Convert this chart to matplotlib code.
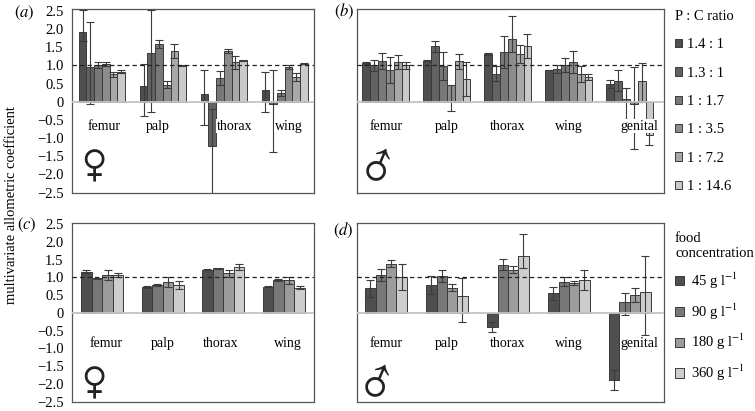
import matplotlib
matplotlib.use("Agg")
import matplotlib.pyplot as plt
import numpy as np

plt.rcParams['font.family'] = ['Liberation Serif', 'DejaVu Serif']
plt.rcParams['mathtext.fontset'] = 'stix'

# ---------------- data ----------------
cats_female = ['femur', 'palp', 'thorax', 'wing']
cats_male = ['femur', 'palp', 'thorax', 'wing', 'genital']
pc_labels = ['1.4 : 1', '1.3 : 1', '1 : 1.7', '1 : 3.5', '1 : 7.2', '1 : 14.6']
food_labels = [r'45 g l$^{-1}$', r'90 g l$^{-1}$', r'180 g l$^{-1}$', r'360 g l$^{-1}$']
ytick_vals = [2.5, 2.0, 1.5, 1.0, 0.5, 0, -0.5, -1.0, -1.5, -2.0, -2.5]
ytick_labels = ['2.5', '2.0', '1.5', '1.0', '0.5', '0', '\u22120.5', '\u22121.0',
                '\u22121.5', '\u22122.0', '\u22122.5']

# panel (a): P:C ratio, females  (rows = ratio, cols = trait)
a_vals = [[1.93, 0.42, 0.21, 0.33],
          [0.95, 1.33, -1.23, -0.06],
          [1.01, 1.59, 0.65, 0.25],
          [1.03, 0.47, 1.40, 0.96],
          [0.75, 1.40, 1.09, 0.68],
          [0.82, 1.00, 1.14, 1.05]]
a_err_lo = [[0.26, 0.81, 0.86, 0.61],
            [1.02, 1.61, 1.31, 1.32],
            [0.08, 0.12, 0.20, 0.08],
            [0.05, 0.10, 0.06, 0.05],
            [0.08, 0.19, 0.18, 0.10],
            [0.04, 0.02, 0.02, 0.02]]
a_err_hi = [[0.60, 0.63, 0.66, 0.48],
            [1.24, 1.19, 1.02, 0.93],
            [0.08, 0.12, 0.20, 0.08],
            [0.05, 0.10, 0.06, 0.05],
            [0.08, 0.19, 0.18, 0.10],
            [0.04, 0.02, 0.02, 0.02]]

# panel (b): P:C ratio, males
b_vals = [[1.07, 1.13, 1.31, 0.87, 0.49],
          [1.00, 1.53, 0.77, 0.90, 0.58],
          [1.12, 0.98, 1.37, 1.00, 0.08],
          [0.87, 0.46, 1.73, 1.09, -0.05],
          [1.09, 1.11, 1.31, 0.75, 0.58],
          [1.00, 0.63, 1.52, 0.68, -0.92]]
b_err_lo = [[0.02, 0.02, 0.03, 0.01, 0.10],
            [0.16, 0.15, 0.20, 0.10, 0.29],
            [0.22, 0.39, 0.43, 0.19, 0.55],
            [0.35, 0.72, 0.35, 0.30, 1.26],
            [0.20, 0.20, 0.25, 0.22, 0.60],
            [0.10, 0.47, 0.33, 0.09, 0.27]]
b_err_hi = [[0.02, 0.02, 0.03, 0.01, 0.10],
            [0.16, 0.15, 0.20, 0.10, 0.29],
            [0.22, 0.39, 0.43, 0.19, 0.31],
            [0.35, 0.00, 0.63, 0.30, 1.00],
            [0.20, 0.20, 0.25, 0.22, 0.49],
            [0.10, 0.47, 0.33, 0.09, 0.27]]

# panel (c): food concentration, females
c_vals = [[1.16, 0.74, 1.22, 0.74],
          [0.97, 0.79, 1.25, 0.92],
          [1.06, 0.87, 1.11, 0.92],
          [1.06, 0.78, 1.29, 0.71]]
c_err = [[0.05, 0.03, 0.02, 0.02],
         [0.02, 0.02, 0.02, 0.02],
         [0.14, 0.15, 0.09, 0.10],
         [0.05, 0.12, 0.08, 0.05]]

# panel (d): food concentration, males
d_vals = [[0.69, 0.78, -0.40, 0.55, -1.88],
          [1.06, 1.04, 1.36, 0.88, 0.30],
          [1.38, 0.71, 1.22, 0.85, 0.50],
          [1.00, 0.48, 1.59, 0.92, 0.60]]
d_err_lo = [[0.23, 0.25, 0.14, 0.18, 0.28],
            [0.17, 0.18, 0.16, 0.12, 0.37],
            [0.10, 0.10, 0.09, 0.06, 0.19],
            [0.37, 0.74, 0.32, 0.29, 1.22]]
d_err_hi = [[0.23, 0.25, 0.14, 0.18, 0.28],
            [0.17, 0.18, 0.16, 0.12, 0.27],
            [0.10, 0.10, 0.09, 0.06, 0.19],
            [0.37, 0.51, 0.62, 0.29, 1.00]]

# ---------------- style ----------------
colors6 = ['#4f4f4f', '#626262', '#787878', '#8c8c8c', '#a8a8a8', '#cacaca']
colors4 = ['#4f4f4f', '#787878', '#9c9c9c', '#cdcdcd']

W, H = 755, 411
fig = plt.figure(figsize=(W / 100, H / 100), dpi=100)


def px_axes(x0, y0, x1, y1):
    return fig.add_axes([x0 / W, 1 - y1 / H, (x1 - x0) / W, (y1 - y0) / H])


def draw_panel(ax, cats, vals, lo, hi, colors, group_w, xlim, ylim, label_y,
               label_dx, show_y):
    n = len(vals)
    w = group_w / n
    x = np.arange(len(cats))
    handles = []
    for i in range(n):
        off = (i - (n - 1) / 2) * w
        bars = ax.bar(x + off, vals[i], w, color=colors[i], edgecolor='#3a3a3a',
                      linewidth=0.7, zorder=2)
        handles.append(bars)
        ax.errorbar(x + off, vals[i], yerr=[lo[i], hi[i]], fmt='none',
                    ecolor='#3c3c3c', elinewidth=0.8, capsize=2.6,
                    capthick=0.8, zorder=3)
    ax.axhline(0, color='#c4c4c4', lw=1.3, zorder=3.5)
    ax.axhline(1, color='#222222', lw=0.9, ls=(0, (3.5, 2.5)), zorder=4)
    for j, c in enumerate(cats):
        ax.text(x[j] + label_dx[j], label_y, c, ha='center', va='center',
                fontsize=10, zorder=6,
                bbox=dict(facecolor='white', edgecolor='none', pad=0.6))
    ax.set_xlim(*xlim)
    ax.set_ylim(*ylim)
    ax.set_xticks([])
    ax.set_yticks(ytick_vals)
    if show_y:
        ax.set_yticklabels(ytick_labels, fontsize=10.5)
    else:
        ax.set_yticklabels([])
    ax.tick_params(axis='y', length=0, pad=6)
    for s in ax.spines.values():
        s.set_color('#555555')
        s.set_linewidth(0.9)
    return handles


ax_a = px_axes(72, 9, 314, 193)
ax_b = px_axes(357, 9, 664, 193)
ax_c = px_axes(72, 223, 314, 402)
ax_d = px_axes(357, 223, 664, 402)

h_pc = draw_panel(ax_a, cats_female, a_vals, a_err_lo, a_err_hi, colors6, 0.76,
                  (-0.49, 3.48), (-2.51, 2.55), -0.67, [0.04, -0.08, 0.18, 0.06], True)
draw_panel(ax_b, cats_male, b_vals, b_err_lo, b_err_hi, colors6, 0.77,
           (-0.475, 4.56), (-2.51, 2.55), -0.67, [0, 0, 0, 0, 0.15], False)
h_food = draw_panel(ax_c, cats_female, c_vals, c_err, c_err, colors4, 0.70,
                    (-0.5, 3.5), (-2.51, 2.53), -0.85, [0.06, 0, -0.05, 0.07], True)
draw_panel(ax_d, cats_male, d_vals, d_err_lo, d_err_hi, colors4, 0.68,
           (-0.475, 4.56), (-2.51, 2.53), -0.85, [0, 0, 0, 0, 0.16], False)

# sex symbols
for ax, sym, xy in [(ax_a, '\u2640', (0.091, 0.145)), (ax_b, '\u2642', (0.066, 0.15)),
                    (ax_c, '\u2640', (0.091, 0.10)), (ax_d, '\u2642', (0.063, 0.115))]:
    ax.text(xy[0], xy[1], sym, transform=ax.transAxes, ha='center', va='center',
            fontsize=30, family=['STIXGeneral', 'DejaVu Sans'], color='#222222',
            zorder=6)

# panel letters
for lab, (px, py) in [('a', (24, 13)), ('b', (344, 11)), ('c', (27, 225)), ('d', (343, 230))]:
    fig.text(px / W, 1 - py / H, '$(' + lab + ')$', ha='center', va='center', fontsize=12)

fig.text(12 / W, 0.5, 'multivariate allometric coefficient', rotation=90,
         ha='center', va='center', fontsize=10.5)

fig.legend([h[0] for h in h_pc], pc_labels, loc='upper left',
           bbox_to_anchor=(675 / W, 1 - 10 / H), frameon=False, borderpad=0,
           borderaxespad=0, handlelength=0.5, handleheight=0.5, handletextpad=0.35,
           labelspacing=1.05, title='P : C ratio', alignment='left',
           fontsize=10.5, title_fontsize=10.5)
fig.legend([h[0] for h in h_food], food_labels, loc='upper left',
           bbox_to_anchor=(675 / W, 1 - 232 / H), frameon=False, borderpad=0,
           borderaxespad=0, handlelength=0.6, handleheight=0.6, handletextpad=0.5,
           labelspacing=0.72, title='food\nconcentration', alignment='left',
           fontsize=10.5, title_fontsize=10.5)

fig.savefig('out.png', dpi=100)
